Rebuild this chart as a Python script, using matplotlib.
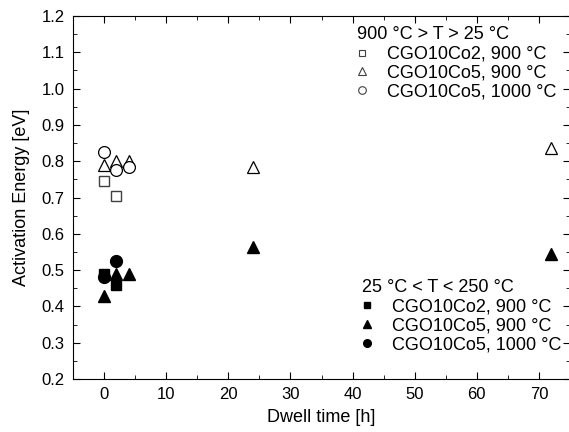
import matplotlib
matplotlib.use("Agg")
import matplotlib.pyplot as plt
from matplotlib.ticker import MultipleLocator
from matplotlib.lines import Line2D

plt.rcParams['font.family'] = ['Liberation Sans', 'DejaVu Sans']

# High-temperature region (open markers)
x_co2_900_hi = [0, 2]
y_co2_900_hi = [0.745, 0.705]
x_co5_900_hi = [0, 2, 4, 24, 72]
y_co5_900_hi = [0.79, 0.80, 0.80, 0.785, 0.835]
x_co5_1000_hi = [0, 2, 4]
y_co5_1000_hi = [0.825, 0.775, 0.785]

# Low-temperature region (filled markers)
x_co2_900_lo = [0, 2]
y_co2_900_lo = [0.49, 0.46]
x_co5_900_lo = [0, 2, 4, 24, 72]
y_co5_900_lo = [0.43, 0.49, 0.49, 0.565, 0.545]
x_co5_1000_lo = [0, 2]
y_co5_1000_lo = [0.48, 0.525]

labels = ["CGO10Co2, 900 °C", "CGO10Co5, 900 °C", "CGO10Co5, 1000 °C"]

fig = plt.figure(figsize=(5.69, 4.32), dpi=100)
ax = fig.add_axes([73/569, 53/432, 497/569, 363/432])

ms = 8.5
gray = '#404040'
ax.plot(x_co2_900_hi, y_co2_900_hi, 's', ms=ms-1, mfc='white', mec=gray, mew=1.0, ls='none')
ax.plot(x_co5_900_hi, y_co5_900_hi, '^', ms=ms, mfc='white', mec='black', mew=0.9, ls='none')
ax.plot(x_co5_1000_hi, y_co5_1000_hi, 'o', ms=ms, mfc='white', mec='black', mew=0.9, ls='none')

ax.plot(x_co5_1000_lo, y_co5_1000_lo, 'o', ms=ms, color='black', ls='none')
ax.plot(x_co2_900_lo, y_co2_900_lo, 's', ms=ms-1, color='black', ls='none')
ax.plot(x_co5_900_lo, y_co5_900_lo, '^', ms=ms, color='black', ls='none')

ax.set_xlim(-5, 75)
ax.set_ylim(0.2, 1.2)
ax.xaxis.set_major_locator(MultipleLocator(10))
ax.xaxis.set_minor_locator(MultipleLocator(5))
ax.yaxis.set_major_locator(MultipleLocator(0.1))
ax.yaxis.set_minor_locator(MultipleLocator(0.05))
ax.yaxis.set_major_formatter(matplotlib.ticker.FormatStrFormatter('%.1f'))
ax.tick_params(which='both', direction='in', top=True, right=True, labelsize=12)
ax.tick_params(which='major', length=5, pad=6)
ax.tick_params(which='minor', length=3)
ax.set_xlabel("Dwell time [h]", fontsize=13, labelpad=5)
ax.set_ylabel("Activation Energy [eV]", fontsize=13, labelpad=8)

sm = 5.5
h_open = [Line2D([], [], marker='s', ms=sm-0.5, mfc='white', mec=gray, mew=0.8, ls='none'),
          Line2D([], [], marker='^', ms=sm, mfc='white', mec=gray, mew=0.8, ls='none'),
          Line2D([], [], marker='o', ms=sm, mfc='white', mec=gray, mew=0.8, ls='none')]
h_fill = [Line2D([], [], marker='s', ms=sm-0.5, color='black', ls='none'),
          Line2D([], [], marker='^', ms=sm, color='black', ls='none'),
          Line2D([], [], marker='o', ms=sm, color='black', ls='none')]

common = dict(frameon=False, fontsize=13, title_fontsize=13, alignment='left',
              handletextpad=1.1, handlelength=0.55, labelspacing=0.1,
              borderaxespad=0.0, borderpad=0.0, loc='upper left')
leg1 = ax.legend(h_open, labels, title="900 °C > T > 25 °C",
                 bbox_to_anchor=(0.5714, 0.972), **common)
ax.add_artist(leg1)
leg2 = ax.legend(h_fill, labels, title="25 °C < T < 250 °C",
                 bbox_to_anchor=(0.5815, 0.276), **common)
for lg in (leg1, leg2):
    lg._legend_box.sep = 2

fig.savefig("out.png", dpi=100)
